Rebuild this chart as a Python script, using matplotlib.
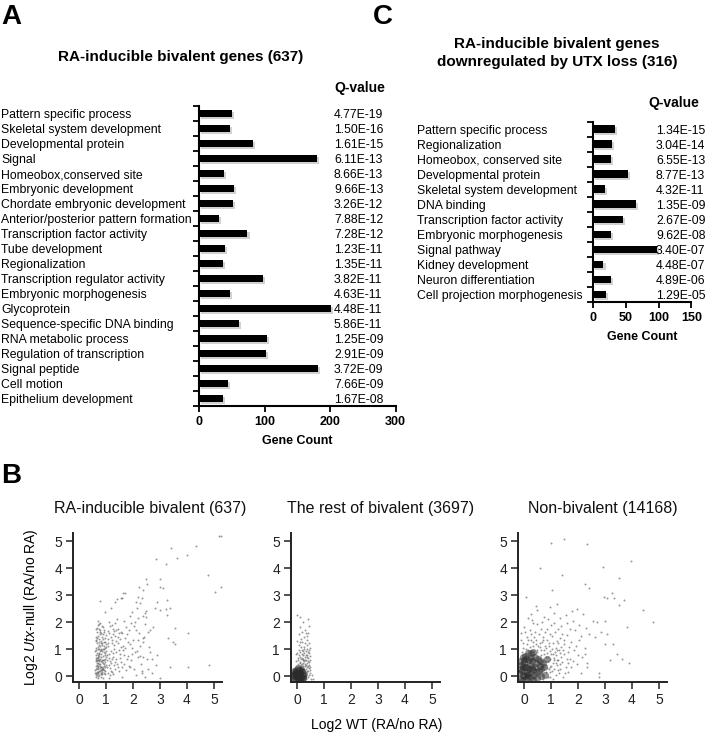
import numpy as np
import matplotlib
matplotlib.use("Agg")
import matplotlib.pyplot as plt
import matplotlib.patheffects as pe
import matplotlib.transforms as mtransforms

plt.rcParams['font.family'] = ['Liberation Sans', 'DejaVu Sans']
plt.rcParams['mathtext.fontset'] = 'custom'
plt.rcParams['mathtext.rm'] = 'Liberation Sans'
plt.rcParams['mathtext.it'] = 'Liberation Sans:italic'

# ---- panel A data ----
a_terms = ["Pattern specific process", "Skeletal system development", "Developmental protein",
           "Signal", "Homeobox,conserved site", "Embryonic development",
           "Chordate embryonic development", "Anterior/posterior pattern formation",
           "Transcription factor activity", "Tube development", "Regionalization",
           "Transcription regulator activity", "Embryonic morphogenesis", "Glycoprotein",
           "Sequence-specific DNA binding", "RNA metabolic process", "Regulation of transcription",
           "Signal peptide", "Cell motion", "Epithelium development"]
a_counts = [51, 47, 82, 180, 38, 53, 52, 31, 74, 40, 37, 97, 47, 202, 61, 104, 102, 182, 44, 37]
a_qvals = ["4.77E-19", "1.50E-16", "1.61E-15", "6.11E-13", "8.66E-13", "9.66E-13", "3.26E-12",
           "7.88E-12", "7.28E-12", "1.23E-11", "1.35E-11", "3.82E-11", "4.63E-11", "4.48E-11",
           "5.86E-11", "1.25E-09", "2.91E-09", "3.72E-09", "7.66E-09", "1.67E-08"]

# ---- panel C data ----
c_terms = ["Pattern specific process", "Regionalization", "Homeobox, conserved site",
           "Developmental protein", "Skeletal system development", "DNA binding",
           "Transcription factor activity", "Embryonic morphogenesis", "Signal pathway",
           "Kidney development", "Neuron differentiation", "Cell projection morphogenesis"]
c_counts = [34, 29, 28, 53, 18, 65, 46, 28, 97, 16, 27, 20]
c_qvals = ["1.34E-15", "3.04E-14", "6.55E-13", "8.77E-13", "4.32E-11", "1.35E-09",
           "2.67E-09", "9.62E-08", "3.40E-07", "4.48E-07", "4.89E-06", "1.29E-05"]

# ---- panel B data ----
ra_pts = [(0.62,0.05),(0.71,0.32),(0.66,0.58),(0.83,0.12),(0.77,0.91),(0.91,0.44),(0.68,1.22),(0.74,0.19),(0.88,0.73),(0.95,1.05),
          (0.64,0.37),(0.79,0.63),(0.70,1.48),(0.86,0.27),(0.73,0.85),(0.97,0.52),(0.67,0.14),(0.81,1.31),(0.76,0.46),(0.92,0.88),
          (0.63,0.79),(0.85,0.58),(0.69,0.02),(0.78,1.12),(0.94,0.21),(0.72,0.66),(0.89,1.57),(0.65,0.97),(0.82,0.35),(0.75,1.74),
          (0.61,0.22),(0.87,0.94),(0.71,0.49),(0.93,1.28),(0.66,1.63),(0.80,0.08),(0.74,1.39),(0.99,0.71),(0.68,0.31),(0.84,1.86),
          (0.63,1.05),(0.77,0.17),(0.90,0.61),(0.70,0.77),(0.96,1.41),(0.62,0.55),(0.86,1.16),(0.73,0.03),(0.79,1.95),(0.67,0.42),
          (0.91,0.12),(0.64,1.34),(0.83,0.82),(0.76,0.61),(0.98,0.33),(0.69,1.91),(0.88,0.47),(0.72,1.02),(0.65,0.26),(0.81,0.69),
          (0.94,1.69),(0.70,0.15),(0.85,1.43),(0.62,1.76),(0.78,0.39),(1.02,0.92),(0.67,0.67),(0.90,0.25),(0.74,0.55),(0.83,1.02),
          (0.60,0.11),(0.96,0.64),(0.71,2.05),(0.87,0.16),(0.66,0.87),(0.79,1.54),(0.93,0.39),(0.73,1.27),(0.64,0.61),(1.01,1.19),
          (0.69,0.38),(0.82,0.24),(0.75,0.99),(0.97,0.08),(0.63,1.46),(0.88,1.36),(0.70,0.58),(0.84,0.51),(0.77,1.64),(0.66,0.09),
          (0.61,0.93),(0.68,1.78),(0.72,0.27),(0.75,1.15),(0.79,0.44),(0.83,1.59),(0.87,0.06),(0.91,1.02),(0.95,0.77),(0.99,1.53),
          (0.64,0.12),(0.69,0.71),(0.73,1.92),(0.77,0.29),(0.81,0.97),(0.85,0.21),(0.89,1.81),(0.93,0.58),(0.97,1.25),(1.01,0.41),
          (0.62,1.29),(0.66,0.47),(0.70,1.06),(0.74,0.83),(0.78,1.72),(0.82,0.56),(0.86,1.24),(0.90,0.31),(0.94,1.12),(0.98,0.86),
          (0.63,0.68),(0.67,1.41),(0.71,0.12),(0.76,0.74),(0.80,1.21),(0.84,0.33),(0.88,1.01),(0.92,1.62),(0.96,0.18),(1.00,1.07),
          (0.65,-0.05),(0.72,-0.08),(0.80,-0.03),(0.88,-0.07),(1.10,-0.06),
          (1.05,0.35),(1.12,0.82),(1.18,1.45),(1.24,0.15),(1.31,1.02),(1.08,1.68),(1.15,0.55),(1.27,0.71),(1.36,1.29),(1.42,0.44),
          (1.09,1.12),(1.21,1.88),(1.33,0.26),(1.47,0.95),(1.14,0.04),(1.26,1.57),(1.39,0.63),(1.52,1.36),(1.11,0.68),(1.44,1.74),
          (1.57,0.52),(1.19,0.93),(1.29,0.41),(1.63,1.11),(1.06,1.38),(1.35,1.95),(1.49,0.18),(1.68,0.79),(1.23,1.21),(1.55,1.62),
          (1.71,1.42),(1.16,0.31),(1.38,0.88),(1.60,0.33),(1.75,1.83),(1.03,0.60),(1.45,1.21),(1.66,2.04),(1.28,0.06),(1.78,0.64),
          (1.12,2.02),(1.53,0.83),(1.34,1.47),(1.81,1.26),(1.41,2.12),(1.62,0.95),(1.20,0.47),(1.73,0.21),(1.48,1.58),(1.25,1.74),
          (1.04,0.77),(1.07,1.21),(1.10,0.42),(1.13,1.58),(1.17,0.19),(1.22,1.34),(1.26,0.87),(1.30,1.67),(1.07,0.13),(1.16,1.86),
          (1.21,0.62),(1.29,1.14),(1.34,0.51),(1.37,1.71),(1.43,0.32),(1.46,1.43),(1.51,0.67),(1.56,1.07),(1.61,1.59),(1.67,0.46),
          (1.72,1.04),(1.77,1.56),(1.83,0.73),(1.88,1.18),(1.93,1.97),
          (1.86,1.72),(1.92,0.58),(2.01,1.35),(2.08,2.02),(2.15,0.92),(1.95,1.05),(2.22,1.58),(2.31,0.43),(1.89,2.21),(2.05,0.27),
          (2.38,1.25),(2.12,1.69),(2.45,1.93),(1.98,0.81),(2.27,1.12),(2.52,0.62),(2.18,2.15),(2.41,1.46),(2.03,1.84),(2.33,0.18),
          (2.58,1.07),(1.84,0.39),(2.48,2.41),(2.25,0.74),(2.62,1.71),(1.96,2.38),(2.10,0.05),(2.36,2.23),(2.55,0.25),(2.20,1.33),
          (5.20,5.18),(5.28,5.20),(4.35,4.83),(3.42,4.73),(4.02,4.49),(3.62,4.38),(2.85,4.35),(3.22,4.17),(4.79,3.74),(5.28,3.31),
          (5.04,3.12),(2.47,3.58),(2.53,3.41),(3.00,3.58),(3.00,3.31),(3.10,3.28),(2.23,3.31),(2.36,3.19),(1.64,3.06),(1.42,2.85),
          (1.58,2.89),(0.78,2.78),(2.20,2.93),(2.32,2.90),(2.88,2.75),(2.82,2.51),(3.00,2.44),(3.25,2.81),(3.22,2.47),(3.27,2.28),
          (3.37,2.51),(2.44,2.32),(2.48,2.20),(2.16,2.54),(2.26,2.69),(2.11,2.75),(1.17,2.51),(0.96,2.38),(1.33,2.75),(1.54,2.91),
          (1.70,3.06),(3.56,1.77),(4.05,1.58),(3.31,1.40),(3.49,1.27),(3.56,1.19),(2.75,1.83),(2.57,1.64),(2.38,1.40),(2.63,0.90),
          (2.90,0.78),(2.69,0.65),(2.07,0.90),(2.20,0.72),(2.38,0.70),(3.37,0.34),(4.05,0.34),(4.83,0.40),(2.33,0.10),(1.90,0.34),
          (3.00,-0.09),(2.70,0.12),(2.85,0.40),(1.60,-0.05),(2.45,-0.02)]

rest_core = [(-0.12,-0.08),(-0.05,0.02),(0.03,-0.11),(0.10,0.06),(-0.09,0.15),(0.06,0.21),(0.15,-0.04),(-0.02,0.24),(0.18,0.14),(0.01,0.09),
             (-0.14,0.05),(0.08,-0.06),(0.21,0.03),(-0.06,-0.13),(0.12,0.22),(0.20,0.17),(-0.10,0.20),(0.04,0.30),(0.24,-0.09),(0.14,0.28),
             (0.00,-0.03),(-0.07,0.08),(0.09,0.12),(0.18,-0.12),(0.26,0.09),(-0.03,0.16),(0.13,-0.13),(0.05,0.02),(-0.11,-0.01),(0.22,-0.05)]
rest_pts = [(0.05,0.45),(0.21,0.58),(0.33,0.41),(0.12,0.72),(0.40,0.66),(-0.04,0.55),(0.28,0.84),(0.17,0.95),(0.36,1.02),(0.44,0.52),
            (0.08,1.15),(0.31,1.23),(0.22,0.47),(0.41,0.89),(-0.02,0.81),(0.14,1.38),(0.37,1.47),(0.26,1.09),(0.47,0.73),(0.03,0.66),
            (0.19,1.62),(0.43,1.21),(0.10,0.52),(0.35,0.61),(0.24,0.77),(0.48,1.05),(0.06,0.98),(0.30,1.71),(0.16,0.63),(0.39,1.34),
            (0.45,0.42),(0.27,0.54),(0.11,0.88),(0.34,0.93),(0.20,1.26),(0.42,1.58),(0.02,1.31),(0.29,0.69),(0.46,1.86),(0.13,1.83),
            (0.02,2.26),(0.40,2.10),(0.12,2.20),(0.34,1.58),(0.23,2.02),(0.08,1.55),(0.38,0.79),(0.18,0.43),(0.49,0.61),(0.07,0.39),
            (0.32,0.25),(0.41,0.18),(0.38,0.33),(0.45,0.05),(0.35,-0.06),(0.29,0.38),(0.44,0.29),(0.50,0.12),
            (0.03,0.28),(0.15,0.41),(0.26,0.19),(0.37,0.48),(0.09,0.33),(0.21,0.36),(0.33,0.12),(0.42,0.39),(0.05,0.58),(0.18,0.67),
            (0.29,0.46),(0.40,0.55),(0.12,0.49),(0.24,0.62),(0.36,0.71),(0.47,0.33),(0.08,0.77),(0.31,0.58),(0.19,0.81),(0.44,0.84),
            (-0.05,0.38),(0.01,0.85),(0.27,1.01),(0.14,1.08),(0.39,1.16),(0.22,0.91),(0.34,0.79),(0.46,0.96),(0.10,1.27),(0.25,1.45),
            (0.33,-0.12),(0.40,-0.02),(0.48,0.22),(0.28,0.08),(0.36,0.17),(0.52,-0.1),(0.60,-0.12),(0.55,0.03)]

non_core = [(-0.15,-0.10),(-0.05,0.05),(0.08,-0.12),(0.18,0.10),(-0.12,0.25),(0.05,0.32),(0.25,-0.05),(0.02,0.48),(0.32,0.22),(0.12,0.15),
            (-0.17,0.12),(0.15,-0.03),(0.38,0.05),(-0.08,-0.14),(0.22,0.41),(0.42,0.34),(-0.10,0.42),(0.08,0.62),(0.48,-0.08),(0.30,0.55),
            (0.00,0.00),(-0.07,0.18),(0.20,0.25),(0.35,-0.13),(0.55,0.18),(-0.02,0.32),(0.28,0.68),(0.45,0.50),(0.10,0.05),(-0.14,0.55),
            (0.58,0.38),(0.62,0.02),(0.05,0.75),(0.40,0.72),(0.18,0.58),(-0.05,0.70),(0.52,0.62),(0.65,0.25),(0.25,0.85),(0.70,0.50),
            (0.30,0.30),(0.10,0.35),(0.45,0.15),(0.00,0.60),(0.60,0.55),(0.75,0.35),(0.85,0.65),(0.35,0.90),(0.15,0.85),(0.78,0.05)]
non_pts = [(0.75,0.82),(0.82,0.15),(0.90,0.55),(0.78,1.12),(1.02,0.38),(0.95,0.92),(1.10,0.68),(0.85,1.35),(1.18,1.05),(1.25,0.22),
           (0.68,1.25),(1.32,0.85),(1.05,1.48),(1.40,0.52),(0.88,-0.05),(1.15,1.62),(1.48,1.18),(1.55,0.35),(0.72,0.62),(1.22,0.95),
           (1.62,0.88),(1.35,1.42),(0.98,0.15),(1.70,0.62),(1.08,0.80),(1.42,1.55),(0.80,0.42),(1.28,0.58),(1.75,1.28),(1.58,1.52),
           (0.62,0.95),(0.92,1.22),(1.12,0.28),(1.38,1.08),(1.65,0.15),(1.85,0.95),(1.95,0.45),(2.05,1.32),(1.90,1.70),(2.15,0.72),
           (0.15,0.95),(0.32,1.12),(-0.05,1.05),(0.45,1.32),(0.10,1.45),(0.22,1.72),(-0.12,1.35),(0.38,0.92),(0.55,1.55),(0.02,1.82),
           (0.60,1.08),(0.28,1.35),(0.50,0.88),(0.12,1.18),(-0.08,0.88),(0.42,1.62),(0.70,1.45),(0.85,1.75),(1.02,1.88),(0.35,1.95),
           (0.95,0.35),(1.18,0.48),(0.72,0.25),(1.30,0.12),(1.50,0.80),(1.08,-0.10),(1.45,-0.02),(0.82,0.72),(1.22,1.30),(0.65,0.78),
           (0.48,0.95),(0.55,0.42),(0.61,1.21),(0.67,0.57),(0.73,0.98),(0.79,0.33),(0.85,0.86),(0.91,1.11),(0.97,0.64),(1.03,1.02),
           (1.09,0.47),(1.15,0.88),(1.21,0.61),(1.27,1.21),(1.33,0.43),(0.52,1.13),(0.58,0.72),(0.64,0.38),(0.70,1.32),(0.76,0.51),
           (0.82,1.05),(0.88,0.72),(0.94,0.25),(1.00,0.82),(1.06,1.22),(1.12,0.58),(1.18,0.78),(1.24,0.41),(1.30,0.98),(1.36,0.71),
           (0.45,1.18),(0.33,1.28),(0.21,1.08),(0.09,1.02),(-0.03,1.21),(0.39,1.45),(0.27,1.55),(0.15,1.32),(0.03,1.62),(-0.10,1.58),
           (0.58,0.05),(0.72,-0.10),(0.85,0.30),(0.97,-0.02),(1.05,0.18),(1.20,0.05),(1.35,0.28),(1.52,0.12),(1.62,0.48),(1.75,0.32),
           (1.45,0.95),(1.58,0.65),(1.68,1.08),(1.80,0.55),(1.92,1.12),(2.00,0.78),(2.12,1.48),(1.50,1.35),(1.25,1.75),(0.95,1.55),
           (0.78,1.62),(0.62,1.75),(0.48,1.92),(0.30,2.08),(0.15,2.15),(0.68,2.00),(0.90,2.10),(1.10,1.95),(1.38,1.85),(1.70,1.75),
           (2.25,1.05),(2.35,0.35),(2.10,0.10),(2.40,1.55),(1.82,2.05),(1.55,2.25),(2.05,1.88),(2.30,1.78),(1.35,2.15),(1.12,2.35),
           (0.50,2.45),(0.45,2.60),(0.98,2.55),(1.22,2.68),(1.78,2.42),(2.20,2.30),(1.95,2.48),(0.75,2.20),(0.25,2.30),(1.60,1.95),
           (1.48,5.06),(0.99,4.94),(2.32,4.88),(0.59,4.01),(2.94,4.05),(3.98,4.28),(1.42,3.74),(3.52,3.62),(2.28,3.41),(2.40,3.25),
           (0.06,2.94),(1.05,3.19),(2.96,2.94),(3.09,2.90),(3.27,3.06),(3.33,2.88),(3.52,2.63),(3.70,2.81),(4.41,2.46),(4.79,2.00),
           (3.83,1.83),(2.72,2.01),(3.02,2.04),(3.06,1.56),(3.02,1.19),(3.31,1.19),(3.19,0.59),(3.46,0.80),(3.64,0.65),(3.89,0.47),
           (2.78,0.10),(2.78,-0.02),(2.35,0.47),(2.28,0.80),(2.65,1.45),(2.55,2.05),(2.85,1.62)]

scatter_titles = ["RA-inducible bivalent (637)", "The rest of bivalent (3697)", "Non-bivalent (14168)"]

W, H = 714, 738
fig = plt.figure(figsize=(W / 100, H / 100), dpi=100)


def fx(p):
    return p / W


def fy(p):
    return 1 - p / H


def bar_panel(rect, terms, counts, qvals, xmax, xticks, label_x, q_x):
    ax = fig.add_axes(rect)
    y = np.arange(len(terms))
    bars = ax.barh(y, counts, height=0.5, color='black')
    for b in bars:
        b.set_path_effects([pe.SimplePatchShadow(offset=(1.5, -1.5), shadow_rgbFace='0.7', alpha=0.6), pe.Normal()])
    ax.set_ylim(len(terms) - 0.5, -0.5)
    ax.set_xlim(0, xmax)
    ax.set_yticks(np.arange(len(terms) + 1) - 0.5)
    ax.set_yticklabels([])
    ax.set_xticks(xticks)
    ax.set_xticklabels([str(t) for t in xticks], fontweight='bold', fontsize=9)
    ax.tick_params(direction='out', length=4, width=1.3)
    for s in ['top', 'right']:
        ax.spines[s].set_visible(False)
    for s in ['left', 'bottom']:
        ax.spines[s].set_linewidth(1.5)
    trans = mtransforms.blended_transform_factory(fig.transFigure, ax.transData)
    for i, (t, q) in enumerate(zip(terms, qvals)):
        ax.text(label_x, i, t, transform=trans, ha='left', va='center_baseline', fontsize=8.8)
        ax.text(q_x, i, q, transform=trans, ha='left', va='center_baseline', fontsize=8.8)
    ax.set_xlabel("Gene Count", fontweight='bold', fontsize=9, labelpad=5)
    return ax


# panel A
bar_panel([fx(199), fy(406), fx(196.5), 300 / H], a_terms, a_counts, a_qvals, 300,
          [0, 100, 200, 300], fx(1), fx(334))
fig.text(fx(181), fy(57), "RA-inducible bivalent genes (637)", ha='center', va='center',
         fontweight='bold', fontsize=11)
fig.text(fx(334), fy(88), "Q-value", ha='left', va='center', fontweight='bold', fontsize=10)

# panel C
bar_panel([fx(593), fy(302), fx(98.25), 180.5 / H], c_terms, c_counts, c_qvals, 150,
          [0, 50, 100, 150], fx(417), fx(656))
fig.text(fx(557), fy(53), "RA-inducible bivalent genes\ndownregulated by UTX loss (316)",
         ha='center', va='center', fontweight='bold', fontsize=11, linespacing=1.45)
fig.text(fx(648), fy(103), "Q-value", ha='left', va='center', fontweight='bold', fontsize=10)

# panel B
lefts = [73, 291, 518]
title_x = [150, 381, 603]
point_sets = [(None, ra_pts), (rest_core, rest_pts), (non_core, non_pts)]
for k in range(3):
    ax = fig.add_axes([fx(lefts[k]), fy(682), fx(149), 149 / H])
    core, pts = point_sets[k]
    if core is not None:
        c = np.array(core)
        ax.scatter(c[:, 0], c[:, 1], s=26, color='#2a2a2a', alpha=0.5, lw=0)
    p = np.array(pts)
    ax.scatter(p[:, 0], p[:, 1], s=2.0, color='#555555', alpha=0.6, lw=0)
    ax.set_xlim(-0.22, 5.3)
    ax.set_ylim(-0.22, 5.3)
    ax.set_xticks(range(6))
    ax.set_yticks(range(6))
    ax.tick_params(direction='out', length=5, width=1.1, labelsize=10, colors='#222222', pad=3)
    for s in ['top', 'right']:
        ax.spines[s].set_visible(False)
    for s in ['left', 'bottom']:
        ax.spines[s].set_linewidth(1.4)
        ax.spines[s].set_color('#222222')
    fig.text(fx(title_x[k]), fy(508), scatter_titles[k], ha='center', va='center', fontsize=11.5, color='#111111')
    if k == 0:
        ax.set_ylabel("Log2 $\\mathit{Utx}$-null (RA/no RA)", fontsize=10, labelpad=10)

fig.text(fx(377), fy(725), "Log2 WT (RA/no RA)", ha='center', va='center', fontsize=10)

# panel letters
fig.text(fx(1), fy(17), "A", ha='left', va='center', fontweight='bold', fontsize=20)
fig.text(fx(373), fy(17), "C", ha='left', va='center', fontweight='bold', fontsize=20)
fig.text(fx(1), fy(476), "B", ha='left', va='center', fontweight='bold', fontsize=20)

fig.savefig("out.png", dpi=100)
